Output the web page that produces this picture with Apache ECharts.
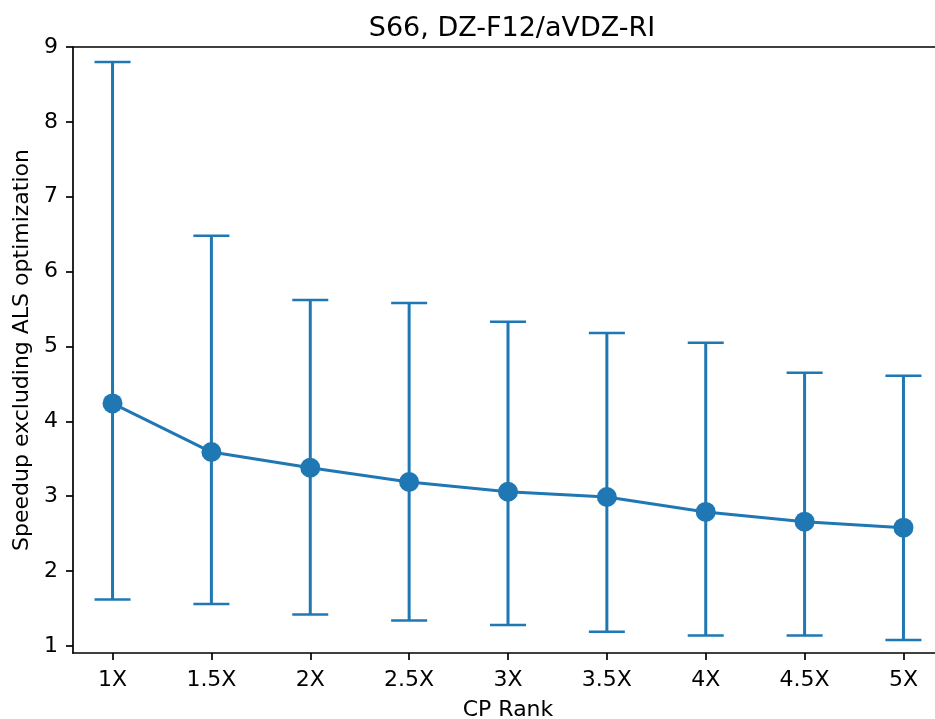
<!DOCTYPE html>
<html>
<head>
<meta charset="utf-8">
<script src="https://cdn.jsdelivr.net/npm/echarts@6/dist/echarts.min.js"></script>
<style>
html,body{margin:0;padding:0;background:#fff;}
#chart{width:935px;height:719px;}
</style>
</head>
<body>
<div id="chart"></div>
<script>
const categories = ['1X','1.5X','2X','2.5X','3X','3.5X','4X','4.5X','5X'];
const meanValues = [4.24, 3.59, 3.38, 3.19, 3.06, 2.99, 2.79, 2.66, 2.58];
const upperValues = [8.80, 6.48, 5.62, 5.58, 5.33, 5.18, 5.05, 4.65, 4.61];
const lowerValues = [1.62, 1.56, 1.42, 1.34, 1.28, 1.19, 1.14, 1.14, 1.08];
const yTicks = [1,2,3,4,5,6,7,8,9];

const color = '#1f77b4';
const font = 'DejaVu Sans';
const idx = categories.map((c,i)=>i);

const chart = echarts.init(document.getElementById('chart'), null, {renderer:'canvas'});
chart.setOption({
  animation:false,
  backgroundColor:'#fff',
  title:{text:'S66, DZ-F12/aVDZ-RI', left:507, textAlign:'center', top:10,
    textStyle:{fontFamily:font, fontSize:27, fontWeight:'normal', color:'#000'}},
  grid:{left:73, right:-8, top:47, bottom:66, containLabel:false, outerBoundsMode:'none'},
  xAxis:[{
    type:'value', min:-0.4, max:8.4, position:'bottom',
    name:'CP Rank', nameLocation:'middle', nameGap:46,
    nameTextStyle:{fontFamily:font, fontSize:22, color:'#000'},
    axisLine:{show:true, onZero:false, lineStyle:{color:'#000', width:1.7}},
    axisTick:{show:true, length:7, lineStyle:{color:'#000', width:1.7}, customValues:idx},
    axisLabel:{fontFamily:font, fontSize:22, color:'#000', margin:16, customValues:idx,
      formatter:(v)=>categories[Math.round(v)]},
    splitLine:{show:false}
  },{
    type:'value', min:-0.4, max:8.4, position:'top',
    axisLine:{show:true, onZero:false, lineStyle:{color:'#000', width:1.7}},
    axisTick:{show:false}, axisLabel:{show:false}, splitLine:{show:false}
  }],
  yAxis:{
    type:'value', min:0.906, max:9,
    name:'Speedup excluding ALS optimization', nameLocation:'middle', nameGap:39,
    nameTextStyle:{fontFamily:font, fontSize:22, color:'#000'},
    axisLine:{show:true, onZero:false, lineStyle:{color:'#000', width:1.7}},
    axisTick:{show:true, length:7, lineStyle:{color:'#000', width:1.7}, customValues:yTicks},
    axisLabel:{fontFamily:font, fontSize:22, color:'#000', margin:15, customValues:yTicks},
    splitLine:{show:false}
  },
  series:[{
    type:'custom',
    data: idx.map(i=>[i, lowerValues[i], upperValues[i]]),
    renderItem:function(params, api){
      const x = api.value(0);
      const lo = api.coord([x, api.value(1)]);
      const hi = api.coord([x, api.value(2)]);
      const cap = 18;
      const style = {stroke:color, lineWidth:3, fill:null};
      const capStyle = {stroke:color, lineWidth:2.5, fill:null};
      return {type:'group', children:[
        {type:'line', shape:{x1:lo[0], y1:lo[1], x2:hi[0], y2:hi[1]}, style:style},
        {type:'line', shape:{x1:lo[0]-cap, y1:lo[1], x2:lo[0]+cap, y2:lo[1]}, style:capStyle},
        {type:'line', shape:{x1:hi[0]-cap, y1:hi[1], x2:hi[0]+cap, y2:hi[1]}, style:capStyle}
      ]};
    },
    z:2
  },{
    type:'line',
    data: idx.map(i=>[i, meanValues[i]]),
    symbol:'circle', symbolSize:20,
    lineStyle:{color:color, width:3},
    itemStyle:{color:color},
    z:3
  }]
});
</script>
</body>
</html>
